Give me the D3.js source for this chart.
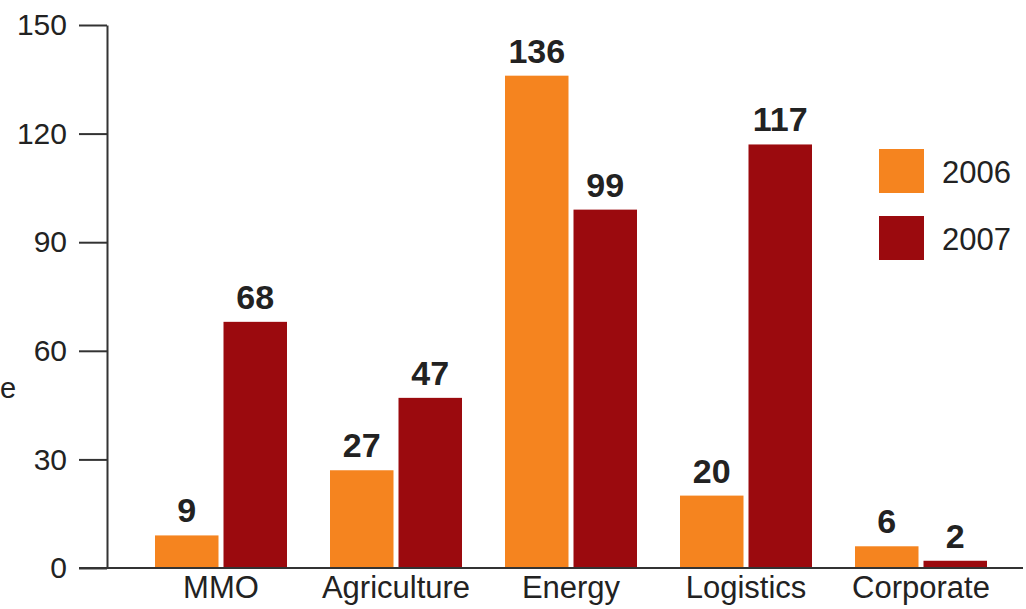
<!DOCTYPE html>
<html>
<head>
<meta charset="utf-8">
<script src="https://cdn.jsdelivr.net/npm/d3@7/dist/d3.min.js"></script>
<style>
  html, body { margin: 0; padding: 0; background: #fff; }
  svg { display: block; font-family: "Liberation Sans", Arial, Helvetica, sans-serif; }
</style>
</head>
<body>
<svg id="chart" width="1026" height="609"></svg>
<script>
const categories = ["MMO", "Agriculture", "Energy", "Logistics", "Corporate"];
const seriesNames = ["2006", "2007"];
const values2006 = [9, 27, 136, 20, 6];
const values2007 = [68, 47, 99, 117, 2];
const yTicks = [0, 30, 60, 90, 120, 150];
const colors = ["#F5841F", "#9B0A0E"];

const svg = d3.select("#chart");
const seriesValues = [values2006, values2007];

const y = d3.scaleLinear().domain([0, 150]).range([568, 25]);
const x0 = d3.scaleBand().domain(categories).range([155, 987]).paddingInner(43 / 175).paddingOuter(0);
const x1 = d3.scaleBand().domain(seriesNames).range([0, x0.bandwidth()]).paddingInner(5 / 68.5).paddingOuter(0);

// y axis
const yAxis = d3.axisLeft(y).tickValues(yTicks).tickSize(28).tickPadding(12).tickSizeOuter(0);
const gy = svg.append("g").attr("transform", "translate(107,0)").call(yAxis);
gy.select(".domain").attr("stroke", "#333").attr("stroke-width", 2);
gy.selectAll(".tick line").attr("stroke", "#333").attr("stroke-width", 2);
gy.selectAll(".tick text").attr("font-size", 30).attr("fill", "#222")
  .attr("font-family", "'Liberation Sans', Arial, sans-serif");

// bars
const groups = svg.append("g").selectAll("g").data(categories).join("g")
  .attr("transform", d => `translate(${x0(d)},0)`);

groups.selectAll("rect")
  .data((c, i) => seriesNames.map((s, j) => ({ s, v: seriesValues[j][i], j })))
  .join("rect")
  .attr("x", d => x1(d.s))
  .attr("width", x1.bandwidth())
  .attr("y", d => y(d.v))
  .attr("height", d => y(0) - y(d.v))
  .attr("fill", d => colors[d.j]);

groups.selectAll("text.val")
  .data((c, i) => seriesNames.map((s, j) => ({ s, v: seriesValues[j][i], j })))
  .join("text")
  .attr("class", "val")
  .attr("x", d => x1(d.s) + x1.bandwidth() / 2)
  .attr("y", d => y(d.v) - 13)
  .attr("text-anchor", "middle")
  .attr("font-size", 34)
  .attr("font-weight", "bold")
  .attr("fill", "#222")
  .text(d => d.v);

// x baseline
svg.append("line")
  .attr("x1", 79).attr("x2", 1023)
  .attr("y1", y(0)).attr("y2", y(0))
  .attr("stroke", "#333").attr("stroke-width", 2);

// category labels
svg.append("g").selectAll("text").data(categories).join("text")
  .attr("x", d => x0(d) + x0.bandwidth() / 2)
  .attr("y", 598)
  .attr("text-anchor", "middle")
  .attr("font-size", 31)
  .attr("fill", "#222")
  .text(d => d);

// legend
const legend = svg.append("g").selectAll("g").data(seriesNames).join("g")
  .attr("transform", (d, i) => `translate(879,${149 + i * 67})`);
legend.append("rect").attr("width", 45).attr("height", 44).attr("fill", (d, i) => colors[i]);
legend.append("text").attr("x", 63).attr("y", 34).attr("font-size", 31).attr("fill", "#222").text(d => d);

// axis title fragment at the left edge
svg.append("text").attr("x", 0).attr("y", 398).attr("text-anchor", "start")
  .attr("font-size", 29).attr("fill", "#222").text("e");
</script>
</body>
</html>
